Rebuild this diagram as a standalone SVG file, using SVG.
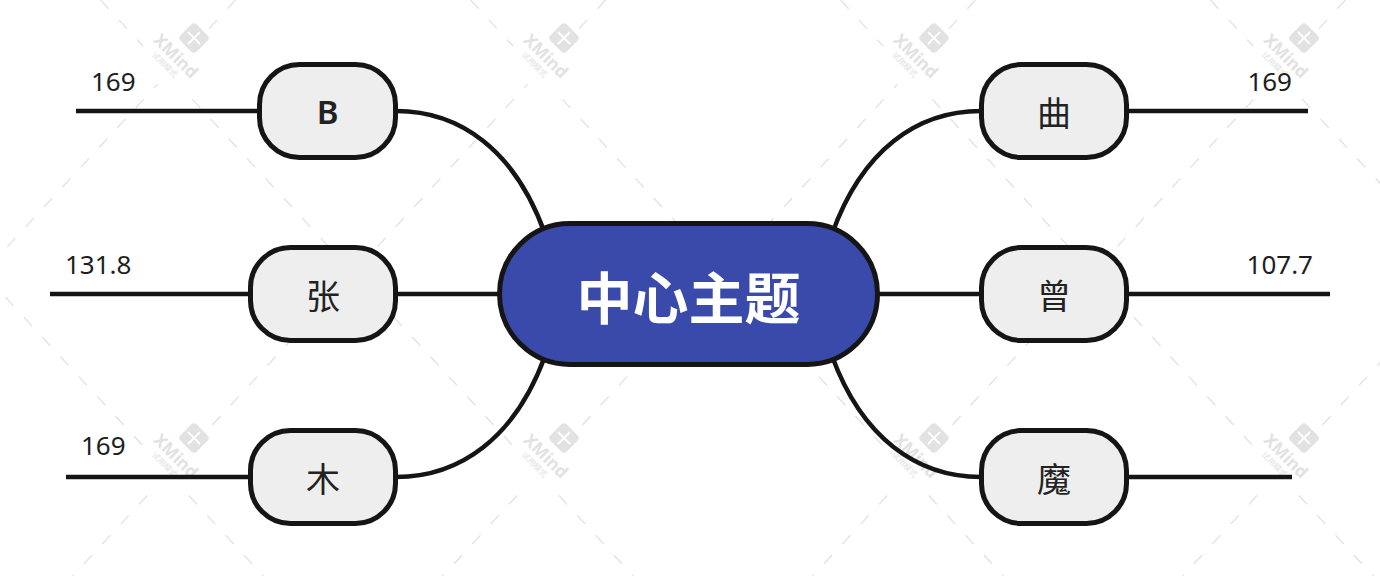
<svg xmlns="http://www.w3.org/2000/svg" width="1380" height="576" viewBox="0 0 1380 576">
  <style>
    .wm-line { fill: none; stroke: #e1e1e1; stroke-width: 1.3; stroke-dasharray: 12 15; }
    .wm-text { font-family: "Noto Sans", "DejaVu Sans", sans-serif; font-weight: 700; font-size: 17px; fill: #e2e2e2; }
    .wm-sub { font-family: "Noto Sans CJK SC", sans-serif; font-size: 8px; fill: #e2e2e2; }
    .edge { fill: none; stroke: #151515; stroke-width: 4.5; }
    .leaf rect { fill: #eeeeee; stroke: #151515; stroke-width: 5; }
    .leaf text { font-family: "Noto Sans CJK SC", sans-serif; font-size: 34px; fill: #222222; text-anchor: middle; dominant-baseline: central; }
    .num { font-family: "Noto Sans", "DejaVu Sans", sans-serif; font-size: 26px; fill: #1e1e1e; }
  </style>
  <defs>
    <mask id="wm-gaps" maskUnits="userSpaceOnUse" x="0" y="0" width="1380" height="576">
      <rect x="0" y="0" width="1380" height="576" fill="#fff"/>
      <g fill="#000">
        <circle cx="180" cy="54" r="38"/>
        <circle cx="550" cy="54" r="38"/>
        <circle cx="920" cy="54" r="38"/>
        <circle cx="1290" cy="54" r="38"/>
        <circle cx="180" cy="454" r="38"/>
        <circle cx="550" cy="454" r="38"/>
        <circle cx="920" cy="454" r="38"/>
        <circle cx="1290" cy="454" r="38"/>
      </g>
    </mask>
    <!-- trial-mode watermark stamp, anchored at its centre -->
    <g id="wm">
      <text class="wm-text" x="0" y="6" text-anchor="middle" transform="rotate(45)">XMind</text>
      <text class="wm-sub" x="-2" y="17" text-anchor="middle" transform="rotate(45)">试用模式</text>
      <g transform="translate(18,-18)">
        <rect x="-11.5" y="-11.5" width="23" height="23" rx="4" fill="#e2e2e2" transform="rotate(45)"/>
        <path d="M-6,-6 Q0,0 6,6 M6,-6 Q0,0 -6,6" fill="none" stroke="#fff" stroke-width="2"/>
      </g>
    </g>
  </defs>

  <rect x="0" y="0" width="1380" height="576" fill="#ffffff"/>

  <!-- background watermark lattice -->
  <g id="watermark">
    <g mask="url(#wm-gaps)">
      <line class="wm-line" x1="-269.5" y1="0" x2="263.3" y2="576"/>
      <line class="wm-line" x1="100.5" y1="0" x2="633.3" y2="576"/>
      <line class="wm-line" x1="470.5" y1="0" x2="1003.3" y2="576"/>
      <line class="wm-line" x1="840.5" y1="0" x2="1373.3" y2="576"/>
      <line class="wm-line" x1="1210.5" y1="0" x2="1743.3" y2="576"/>
      <line class="wm-line" x1="235.5" y1="0" x2="-297.3" y2="576"/>
      <line class="wm-line" x1="605.5" y1="0" x2="72.7" y2="576"/>
      <line class="wm-line" x1="975.5" y1="0" x2="442.7" y2="576"/>
      <line class="wm-line" x1="1345.5" y1="0" x2="812.7" y2="576"/>
      <line class="wm-line" x1="1715.5" y1="0" x2="1182.7" y2="576"/>
    </g>
    <use href="#wm" x="176" y="56"/>
    <use href="#wm" x="546" y="56"/>
    <use href="#wm" x="916" y="56"/>
    <use href="#wm" x="1286" y="56"/>
    <use href="#wm" x="176" y="456"/>
    <use href="#wm" x="546" y="456"/>
    <use href="#wm" x="916" y="456"/>
    <use href="#wm" x="1286" y="456"/>
  </g>

  <!-- connectors -->
  <g id="connectors">
    <path class="edge" d="M396,111 C460,111 515,150 545,234"/>
    <path class="edge" d="M396,294 L502,294"/>
    <path class="edge" d="M396,477 C460,477 515,438 545,356"/>
    <path class="edge" d="M981,111 C917,111 862,150 832,234"/>
    <path class="edge" d="M875,294 L981,294"/>
    <path class="edge" d="M981,477 C917,477 862,438 832,356"/>
    <!-- label lines -->
    <path class="edge" d="M76,111 L260,111"/>
    <path class="edge" d="M50,294 L250,294"/>
    <path class="edge" d="M66,477 L250,477"/>
    <path class="edge" d="M1126,111 L1308,111"/>
    <path class="edge" d="M1126,294 L1330,294"/>
    <path class="edge" d="M1126,477 L1292,477"/>
  </g>

  <!-- labels on the outer lines -->
  <g id="labels">
    <text class="num" x="91" y="91">169</text>
    <text class="num" x="65" y="274">131.8</text>
    <text class="num" x="81" y="455">169</text>
    <text class="num" x="1292" y="91" text-anchor="end">169</text>
    <text class="num" x="1313" y="274" text-anchor="end">107.7</text>
  </g>

  <!-- central topic -->
  <g id="central">
    <rect x="499.5" y="223.5" width="378" height="141" rx="70.5" fill="#394aab" stroke="#151515" stroke-width="5"/>
    <text x="688.5" y="294" font-family="'Noto Sans CJK SC', sans-serif" font-weight="700" font-size="56" fill="#ffffff" text-anchor="middle" dominant-baseline="central">中心主题</text>
  </g>

  <!-- subtopics -->
  <g id="node-b" class="leaf">
    <rect x="259.5" y="64.5" width="136" height="93" rx="40"/>
    <text x="327.5" y="111" style="font-family:'Noto Sans','DejaVu Sans',sans-serif;font-weight:600;font-size:33px">B</text>
  </g>
  <g id="node-zhang" class="leaf">
    <rect x="250.5" y="247.5" width="145" height="93" rx="40"/>
    <text x="323" y="294">张</text>
  </g>
  <g id="node-mu" class="leaf">
    <rect x="250.5" y="430.5" width="145" height="93" rx="40"/>
    <text x="323" y="477">木</text>
  </g>
  <g id="node-qu" class="leaf">
    <rect x="981.5" y="64.5" width="145" height="93" rx="40"/>
    <text x="1054" y="111">曲</text>
  </g>
  <g id="node-zeng" class="leaf">
    <rect x="981.5" y="247.5" width="145" height="93" rx="40"/>
    <text x="1054" y="294">曾</text>
  </g>
  <g id="node-mo" class="leaf">
    <rect x="981.5" y="430.5" width="145" height="93" rx="40"/>
    <text x="1054" y="477">魔</text>
  </g>
</svg>
